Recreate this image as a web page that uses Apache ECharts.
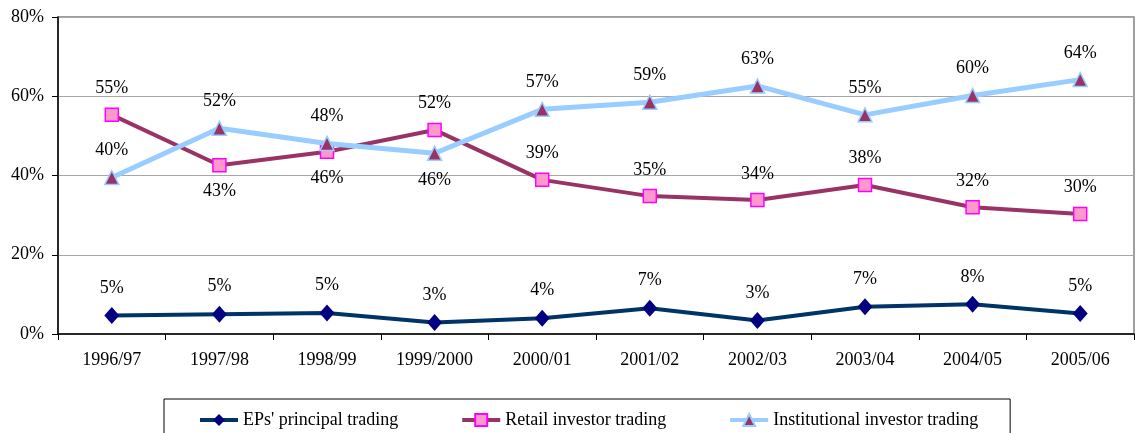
<!DOCTYPE html>
<html>
<head>
<meta charset="utf-8">
<script src="https://cdn.jsdelivr.net/npm/echarts@6/dist/echarts.min.js"></script>
<style>html,body{margin:0;padding:0;background:#fff}#c{width:1136px;height:433px}</style>
</head>
<body>
<div id="c"></div>
<script>
const categories = ['1996/97','1997/98','1998/99','1999/2000','2000/01','2001/02','2002/03','2003/04','2004/05','2005/06'];
const epPrincipal = [4.7, 5.0, 5.3, 2.9, 4.0, 6.5, 3.4, 6.9, 7.5, 5.2];
const retail = [55.3, 42.6, 46.0, 51.5, 38.9, 34.8, 33.8, 37.6, 32.0, 30.3];
const institutional = [39.5, 51.9, 48.1, 45.6, 56.7, 58.5, 62.6, 55.3, 60.2, 64.2];
const yTicks = [0, 20, 40, 60, 80];
const seriesNames = ["EPs' principal trading", 'Retail investor trading', 'Institutional investor trading'];

const FONT = 'Liberation Serif';
const FS = 18;

function mk(values, belowIdx) {
  return values.map((v, i) => {
    const below = belowIdx.indexOf(i) >= 0;
    return { value: v, label: { position: below ? 'bottom' : 'top' } };
  });
}

const chart = echarts.init(document.getElementById('c'));
const labelBase = {
  show: true, distance: 10, color: '#000', fontFamily: FONT, fontSize: FS,
  formatter: p => Math.round(p.value) + '%'
};
chart.setOption({
  animation: false,
  backgroundColor: '#fff',
  grid: { left: 58, right: 2, top: 17, bottom: 99, show: true, borderColor: '#808080', borderWidth: 1.5 },
  xAxis: {
    type: 'category', data: categories, boundaryGap: true,
    axisLine: { lineStyle: { color: '#000', width: 1.5 } },
    axisTick: { show: true, length: 6, alignWithLabel: false, lineStyle: { color: '#000' } },
    axisLabel: { color: '#000', fontFamily: FONT, fontSize: FS, margin: 17 }
  },
  yAxis: {
    type: 'value', min: yTicks[0], max: yTicks[yTicks.length - 1], interval: 20,
    axisLine: { show: true, lineStyle: { color: '#000', width: 1.5 } },
    axisTick: { show: true, length: 6, lineStyle: { color: '#000' } },
    axisLabel: { color: '#000', fontFamily: FONT, fontSize: FS, margin: 14, formatter: '{value}%' },
    splitLine: { show: true, lineStyle: { color: '#a6a6a6', width: 1 } }
  },
  legend: {
    left: 164, top: 399,
    padding: [12, 32, 30, 34],
    itemGap: 62, itemWidth: 38, itemHeight: 15,
    borderColor: '#000', borderWidth: 1,
    lineStyle: { width: 4 },
    textStyle: { color: '#000', fontFamily: FONT, fontSize: FS },
    data: seriesNames
  },
  series: [
    {
      name: seriesNames[0], type: 'line', data: mk(epPrincipal, []),
      symbol: 'diamond', symbolSize: [15, 17],
      lineStyle: { color: '#003366', width: 4 },
      itemStyle: { color: '#000080', borderColor: '#000080', borderWidth: 0 },
      label: labelBase, z: 3
    },
    {
      name: seriesNames[1], type: 'line', data: mk(retail, [1, 2]),
      symbol: 'rect', symbolSize: 13,
      lineStyle: { color: '#993366', width: 4 },
      itemStyle: { color: '#FF99CC', borderColor: '#FF00FF', borderWidth: 1.5 },
      label: labelBase, z: 3
    },
    {
      name: seriesNames[2], type: 'line', data: mk(institutional, [3]),
      symbol: 'triangle', symbolSize: 14,
      lineStyle: { color: '#99CCFF', width: 5 },
      itemStyle: { color: '#993366', borderColor: '#99CCFF', borderWidth: 1.5 },
      label: labelBase, z: 4
    }
  ]
});
</script>
</body>
</html>
